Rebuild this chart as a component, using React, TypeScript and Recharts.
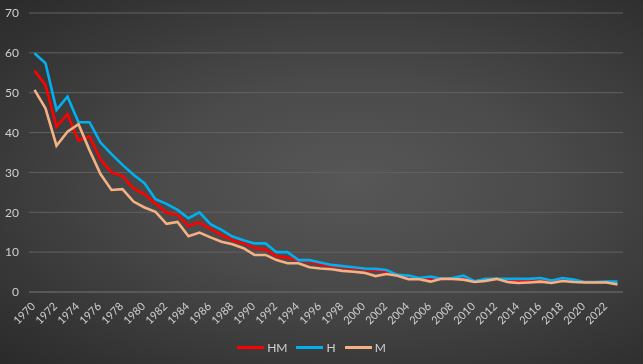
import React from "react";
import { LineChart, Line, XAxis, YAxis, CartesianGrid, Legend } from "recharts";

const years = [
  1970, 1971, 1972, 1973, 1974, 1975, 1976, 1977, 1978, 1979,
  1980, 1981, 1982, 1983, 1984, 1985, 1986, 1987, 1988, 1989,
  1990, 1991, 1992, 1993, 1994, 1995, 1996, 1997, 1998, 1999,
  2000, 2001, 2002, 2003, 2004, 2005, 2006, 2007, 2008, 2009,
  2010, 2011, 2012, 2013, 2014, 2015, 2016, 2017, 2018, 2019,
  2020, 2021, 2022, 2023,
];

const hm = [
  55.5, 51.9, 41.5, 44.6, 38.0, 39.0, 33.3, 30.0, 29.1, 26.0,
  24.5, 22.2, 19.9, 19.3, 16.6, 17.4, 15.8, 14.3, 13.0, 12.2,
  11.1, 10.7, 9.0, 8.6, 8.0, 7.6, 6.9, 6.5, 6.2, 5.9,
  5.7, 5.4, 5.1, 4.4, 3.6, 3.3, 3.5, 3.3, 3.3, 3.3,
  2.5, 2.9, 3.3, 2.8, 2.75, 2.8, 2.9, 2.5, 2.9, 2.7,
  2.5, 2.5, 2.4, 2.1,
];

const h = [
  59.9, 57.4, 45.7, 49.0, 42.6, 42.6, 37.5, 34.6, 31.9, 29.4,
  27.3, 23.3, 22.1, 20.6, 18.5, 20.0, 17.0, 15.6, 13.9, 13.0,
  12.2, 12.2, 10.0, 10.0, 8.0, 8.0, 7.4, 6.8, 6.5, 6.2,
  5.9, 5.8, 5.5, 4.3, 4.1, 3.5, 3.9, 3.3, 3.5, 4.1,
  2.7, 3.3, 3.3, 3.3, 3.3, 3.3, 3.5, 2.9, 3.5, 3.1,
  2.5, 2.5, 2.6, 2.6,
];

const m = [
  50.7, 46.1, 36.7, 40.2, 42.1, 35.6, 29.6, 25.6, 25.8, 22.7,
  21.2, 20.1, 17.1, 17.6, 14.0, 14.9, 13.7, 12.6, 12.0, 11.0,
  9.3, 9.3, 8.0, 7.2, 7.2, 6.2, 5.9, 5.7, 5.3, 5.1,
  4.8, 4.0, 4.5, 4.1, 3.2, 3.2, 2.6, 3.3, 3.25, 3.1,
  2.5, 2.8, 3.3, 2.5, 2.25, 2.4, 2.6, 2.25, 2.75, 2.5,
  2.4, 2.4, 2.4, 1.9,
];

const yTicks = [0, 10, 20, 30, 40, 50, 60, 70];

const seriesNames = ["HM", "H", "M"];
const seriesColors = ["#ff0000", "#00b0f0", "#f4b183"];

const data = years.map((y, i) => ({ year: String(y), HM: hm[i], H: h[i], M: m[i] }));

const FONT = "Lato, 'Open Sans', sans-serif";
const TEXT = "#cfcfcf";

const XTick = (props: any) => {
  const { x, y, payload } = props;
  const px = x + 1.5;
  const py = y + 15;
  return (
    <text
      x={px}
      y={py}
      transform={`rotate(-45, ${px}, ${py})`}
      textAnchor="end"
      fill={TEXT}
      fontSize={11}
      fontFamily={FONT}
    >
      {payload.value}
    </text>
  );
};

const LegendContent = () => (
  <div
    style={{
      height: 24,
      display: "flex",
      justifyContent: "center",
      alignItems: "center",
      fontFamily: FONT,
      fontSize: 12,
      color: TEXT,
    }}
  >
    {seriesNames.map((n, i) => (
      <div key={n} style={{ display: "flex", alignItems: "center", marginLeft: i === 0 ? 0 : 9 }}>
        <div style={{ width: 27, height: 3, background: seriesColors[i], marginRight: 3 }} />
        <span>{n}</span>
      </div>
    ))}
  </div>
);

export default function App() {
  return (
    <div
      style={{
        position: "fixed",
        left: 0,
        top: 0,
        width: 643,
        height: 364,
        background: "radial-gradient(ellipse at 55% 50%, #575757 0%, #4a4a4a 40%, #2a2a2a 100%)",
        fontFamily: FONT,
      }}
    >
      <LineChart
        width={643}
        height={364}
        data={data}
        margin={{ top: 13, right: 20, bottom: 5, left: 0 }}
      >
        <CartesianGrid vertical={false} stroke="#626262" strokeWidth={1} />
        <XAxis
          dataKey="year"
          interval={1}
          tickLine={false}
          axisLine={{ stroke: "#626262" }}
          padding={{ left: 5.5, right: 5.5 }}
          height={43}
          tickSize={0}
          tickMargin={0}
          tick={<XTick />}
        />
        <YAxis
          domain={[0, 70]}
          ticks={yTicks}
          width={29}
          tickLine={false}
          axisLine={false}
          tickMargin={4}
          tick={{ fill: TEXT, fontSize: 12, fontFamily: FONT }}
        />
        <Legend verticalAlign="bottom" align="center" content={<LegendContent />} />
        {seriesNames.map((n, i) => (
          <Line
            key={n}
            type="linear"
            dataKey={n}
            stroke={seriesColors[i]}
            strokeWidth={2.6}
            dot={false}
            isAnimationActive={false}
          />
        ))}
      </LineChart>
    </div>
  );
}
